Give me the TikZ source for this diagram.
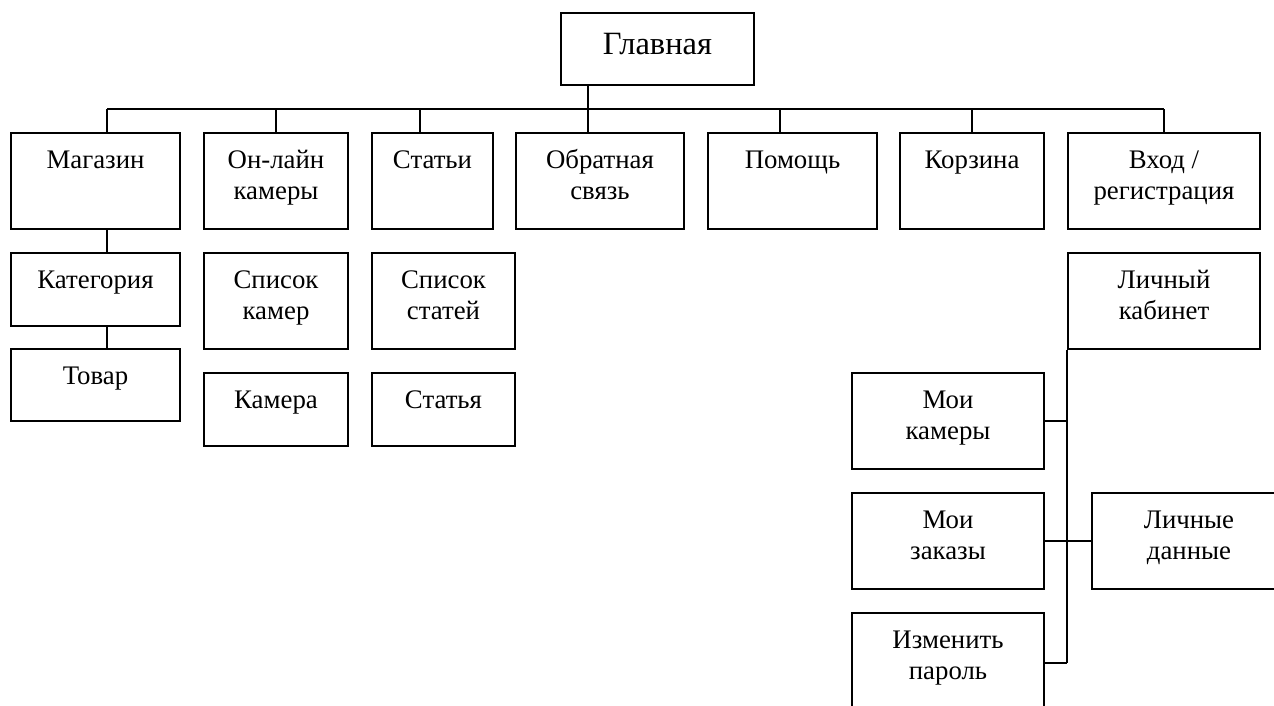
\documentclass[tikz,border=0pt]{standalone}
\usepackage{fontspec}
\setmainfont{Liberation Serif}
\usetikzlibrary{fit}
\begin{document}
\begin{tikzpicture}[x=1pt,y=-1pt,
  box/.style={draw=black, line width=2pt, inner sep=0pt, fill=white},
  txt/.style={inner sep=0pt, align=center, anchor=base, font=\fontsize{26.8}{30.5}\selectfont},
  big/.style={inner sep=0pt, align=center, anchor=base, font=\fontsize{32.5}{36}\selectfont},
  line/.style={draw=black, line width=2pt}]
\useasboundingbox (0,0) rectangle (1274,705);
\clip (0,0) rectangle (1274,705);
\fill[white] (0,0) rectangle (1274,705);

% level 0
\node[box, fit={(561,13) (754,85)}] (glav) {};
% level 1
\node[box, fit={(11,133) (180,229)}] (mag) {};
\node[box, fit={(204,133) (348,229)}] (onl) {};
\node[box, fit={(372,133) (493,229)}] (stat) {};
\node[box, fit={(516,133) (684,229)}] (obr) {};
\node[box, fit={(708,133) (877,229)}] (pom) {};
\node[box, fit={(900,133) (1044,229)}] (korz) {};
\node[box, fit={(1068,133) (1260,229)}] (vhod) {};
% level 2
\node[box, fit={(11,253) (180,326)}] (kat) {};
\node[box, fit={(11,349) (180,421)}] (tov) {};
\node[box, fit={(204,253) (348,349)}] (spcam) {};
\node[box, fit={(204,373) (348,446)}] (cam) {};
\node[box, fit={(372,253) (515,349)}] (spst) {};
\node[box, fit={(372,373) (515,446)}] (st) {};
\node[box, fit={(1068,253) (1260,349)}] (lk) {};
\node[box, fit={(852,373) (1044,469)}] (moicam) {};
\node[box, fit={(852,493) (1044,589)}] (moizak) {};
\node[box, fit={(1092,493) (1286,589)}] (ld) {};
\node[box, fit={(852,613) (1044,712)}] (izm) {};

% texts (one line: baseline 36.5 below top; two lines: last baseline 67 below top)
\node[big] (glav-t) at ([yshift=-42pt]glav.north) {Главная};
\node[txt] (mag-t) at ([yshift=-36.5pt]mag.north) {Магазин};
\node[txt] (onl-t) at ([yshift=-67pt]onl.north) {Он-лайн\\камеры};
\node[txt] (stat-t) at ([yshift=-36.5pt]stat.north) {Статьи};
\node[txt] (obr-t) at ([yshift=-67pt]obr.north) {Обратная\\связь};
\node[txt] (pom-t) at ([yshift=-36.5pt]pom.north) {Помощь};
\node[txt] (korz-t) at ([yshift=-36.5pt]korz.north) {Корзина};
\node[txt] (vhod-t) at ([yshift=-67pt]vhod.north) {Вход /\\регистрация};
\node[txt] (kat-t) at ([yshift=-36.5pt]kat.north) {Категория};
\node[txt] (tov-t) at ([yshift=-36.5pt]tov.north) {Товар};
\node[txt] (spcam-t) at ([yshift=-67pt]spcam.north) {Список\\камер};
\node[txt] (cam-t) at ([yshift=-36.5pt]cam.north) {Камера};
\node[txt] (spst-t) at ([yshift=-67pt]spst.north) {Список\\статей};
\node[txt] (st-t) at ([yshift=-36.5pt]st.north) {Статья};
\node[txt] (lk-t) at ([yshift=-67pt]lk.north) {Личный\\кабинет};
\node[txt] (moicam-t) at ([yshift=-67pt]moicam.north) {Мои\\камеры};
\node[txt] (moizak-t) at ([yshift=-67pt]moizak.north) {Мои\\заказы};
\node[txt] (ld-t) at ([yshift=-67pt]ld.north) {Личные\\данные};
\node[txt] (izm-t) at ([yshift=-67pt]izm.north) {Изменить\\пароль};

% bus coordinates
\coordinate (b1) at (107,109);
\coordinate (b2) at (276,109);
\coordinate (b3) at (420,109);
\coordinate (b4) at (588,109);
\coordinate (b5) at (780,109);
\coordinate (b6) at (972,109);
\coordinate (b7) at (1164,109);

\draw[line] (b1) -- (b7);
\draw[line] (glav.south -| b4) -- (b4 |- obr.north);
\draw[line] (b1) -- (b1 |- mag.north);
\draw[line] (b2) -- (b2 |- onl.north);
\draw[line] (b3) -- (b3 |- stat.north);
\draw[line] (b5) -- (b5 |- pom.north);
\draw[line] (b6) -- (b6 |- korz.north);
\draw[line] (b7) -- (b7 |- vhod.north);

\draw[line] (mag.south -| b1) -- (kat.north -| b1);
\draw[line] (kat.south -| b1) -- (tov.north -| b1);

\draw[line] (lk.south west) -- (lk.south west |- izm.east);
\draw[line] (moicam.east) -- (moicam.east -| lk.south west);
\draw[line] (moizak.east) -- (ld.west);
\draw[line] (izm.east) -- (izm.east -| lk.south west);
\end{tikzpicture}
\end{document}
